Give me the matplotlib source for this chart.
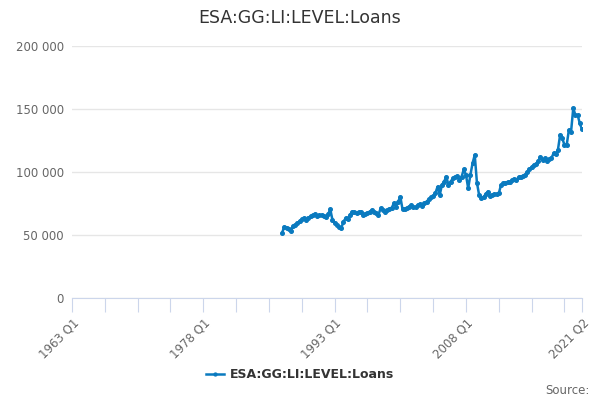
import matplotlib
matplotlib.use('Agg')
import matplotlib.pyplot as plt
from matplotlib.ticker import FuncFormatter

# quarterly series, first point is 1987 Q1 (36 years after the 1963 Q1 axis start)
first_year = 1963
n_quarters = 234          # 1963 Q1 .. 2021 Q2
start_index = 96          # 1987 Q1
loans = [
    51800, 56600, 55800, 54500, 53400, 57100, 58200, 59500, 61000, 62500,
    63200, 62000, 63800, 64800, 65600, 66700, 65300, 65600, 65900, 65000,
    64500, 66400, 70400, 61900, 59500, 57900, 56500, 55300, 60600, 63200,
    63000, 65900, 68500, 68000, 67200, 68000, 68500, 65900, 67000, 67500,
    68500, 69800, 68500, 67200, 65900, 71200, 69500, 68500, 69800, 70500,
    71200, 75100, 72500, 76400, 80400, 70400, 70400, 71200, 72500, 73800,
    72500, 72000, 73800, 74500, 73000, 75100, 76500, 78300, 79900, 81000,
    83100, 88300, 81700, 89700, 92300, 96300, 89700, 92300, 95000, 96000,
    96800, 93700, 96300, 102100, 97600, 87100, 97600, 106900, 113500, 91500,
    81700, 79100, 79900, 82500, 84400, 81000, 82000, 82500, 82500, 83100,
    89700, 91000, 91500, 91800, 92300, 93500, 94200, 93700, 95800, 96300,
    96800, 97600, 100200, 102100, 104000, 105600, 106300, 108500, 112100, 109500,
    110900, 109000, 110000, 110900, 114800, 114300, 117500, 129400, 126700, 121400,
    121400, 133300, 132000, 150500, 145200, 145200, 138600, 133900,
]
series_name = 'ESA:GG:LI:LEVEL:Loans'

quarters = ['{} Q{}'.format(first_year + i // 4, i % 4 + 1) for i in range(n_quarters)]
x = list(range(start_index, start_index + len(loans)))

fig = plt.figure(figsize=(6, 4), dpi=100)
ax = fig.add_axes([0.12, 0.255, 0.85, 0.63])

ax.plot(x, loans, color='#0a7abf', linewidth=1.8, marker='o', markersize=2.6,
        label=series_name)

ax.set_xlim(0, n_quarters - 1)
ax.set_ylim(0, 200000)
ax.set_yticks([0, 50000, 100000, 150000, 200000])
ax.yaxis.set_major_formatter(FuncFormatter(lambda v, p: '{:,.0f}'.format(v).replace(',', ' ')))
ax.grid(axis='y', color='#e6e6e6', linewidth=1)
ax.set_axisbelow(True)

tick_pos = list(range(0, n_quarters - 1, 15)) + [n_quarters - 1]
ax.set_xticks(tick_pos)
labels = [quarters[i] if (i % 60 == 0 or i == n_quarters - 1) else '' for i in tick_pos]
ax.set_xticklabels(labels, rotation=45, ha='right', rotation_mode='anchor')

for side in ['top', 'right', 'left']:
    ax.spines[side].set_visible(False)
ax.spines['bottom'].set_color('#ccd6eb')
ax.tick_params(axis='x', colors='#ccd6eb', length=10, labelcolor='#666666', labelsize=8.5, pad=3)
ax.tick_params(axis='y', length=0, labelcolor='#666666', labelsize=8.5, pad=6)

fig.text(0.5, 0.955, series_name, ha='center', va='center', fontsize=12.5, color='#333333')
leg = fig.legend(loc='center', bbox_to_anchor=(0.5, 0.063), frameon=False,
                 prop={'weight': 'bold', 'size': 9}, handlelength=1.4, handletextpad=0.5,
                 markerscale=0.8)
for t in leg.get_texts():
    t.set_color('#333333')
fig.text(0.982, 0.025, 'Source:', ha='right', va='center', fontsize=8.5, color='#666666')

fig.savefig('out.png', dpi=100)
